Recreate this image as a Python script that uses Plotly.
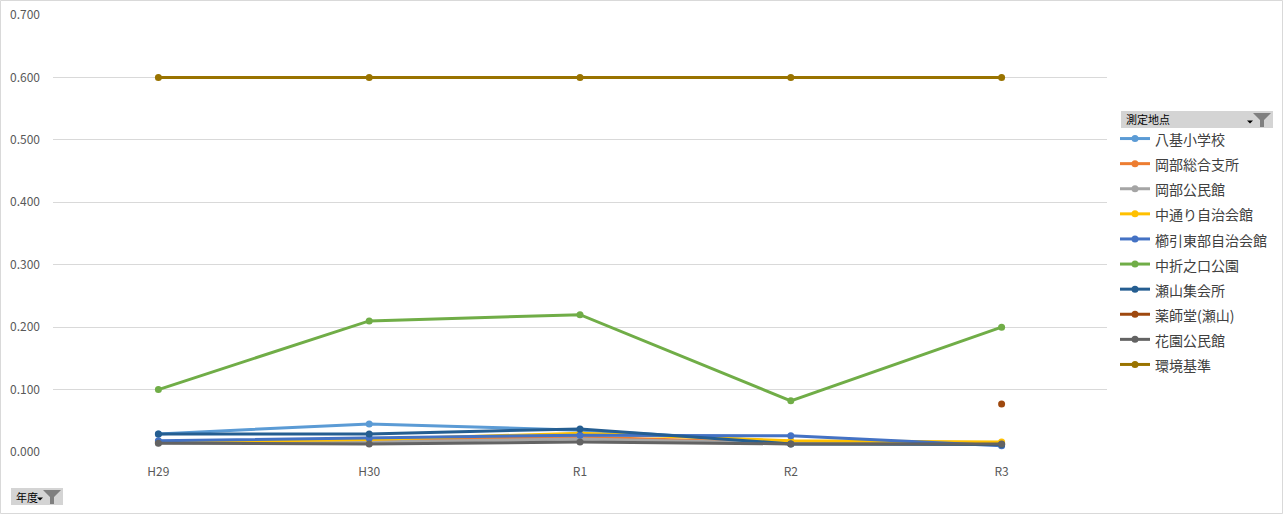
import plotly.graph_objects as go

years = ["H29", "H30", "R1", "R2", "R3"]
series_names = ["八基小学校", "岡部総合支所", "岡部公民館", "中通り自治会館", "櫛引東部自治会館",
                "中折之口公園", "瀬山集会所", "薬師堂(瀬山)", "花園公民館", "環境基準"]
v_yagi = [0.029, 0.045, 0.035, 0.016, 0.012]
v_okabe_sogo = [0.016, 0.019, 0.024, 0.014, 0.014]
v_okabe_kom = [0.015, 0.016, 0.021, 0.014, 0.013]
v_nakadori = [0.016, 0.020, 0.030, 0.018, 0.016]
v_kushibiki = [0.018, 0.022, 0.027, 0.026, 0.010]
v_nakaori = [0.100, 0.210, 0.220, 0.082, 0.200]
v_seyama = [0.029, 0.029, 0.037, 0.013, 0.012]
v_yakushi = [None, None, None, None, 0.077]
v_hanazono = [0.014, 0.013, 0.016, 0.013, 0.013]
v_kijun = [0.600, 0.600, 0.600, 0.600, 0.600]
all_values = [v_yagi, v_okabe_sogo, v_okabe_kom, v_nakadori, v_kushibiki,
              v_nakaori, v_seyama, v_yakushi, v_hanazono, v_kijun]
colors = ["#5B9BD5", "#ED7D31", "#A5A5A5", "#FFC000", "#4472C4",
          "#70AD47", "#255E91", "#9E480E", "#636363", "#997300"]
y_ticks = [0.0, 0.1, 0.2, 0.3, 0.4, 0.5, 0.6, 0.7]

FONT = "Noto Sans CJK JP"
fig = go.Figure()
for name, vals, col in zip(series_names, all_values, colors):
    fig.add_trace(go.Scatter(x=years, y=vals, name=f'<span style="font-size:14px">{name}</span>',
                             mode="lines+markers",
                             line=dict(color=col, width=3),
                             marker=dict(color=col, size=7, symbol="circle"),
                             hoverinfo="skip"))

W, H = 1283, 514
L, R, T, B = 53, 176, 15, 62
fig.update_layout(
    width=W, height=H,
    margin=dict(l=L, r=R, t=T, b=B, autoexpand=False),
    paper_bgcolor="white", plot_bgcolor="white",
    font=dict(family=FONT, size=12, color="#595959"),
    showlegend=True,
    legend=dict(x=(1115 - L) / (W - L - R), y=(H - B - 121) / (H - T - B), xanchor="left", yanchor="top",
                font=dict(family=FONT, size=17, color="#404040"),
                tracegroupgap=0, itemwidth=30, bgcolor="rgba(0,0,0,0)",
                traceorder="normal"),
    xaxis=dict(type="category", showgrid=False, zeroline=False, showline=False,
               ticks="", tickfont=dict(size=12, color="#595959"), ticklabelstandoff=11,
               range=[-0.5, 4.5]),
    yaxis=dict(range=[0, 0.7], tickvals=y_ticks, tickformat=".3f", showgrid=True,
               gridcolor="#D9D9D9", gridwidth=1, zeroline=False, showline=False,
               ticks="", tickfont=dict(size=12, color="#595959"), ticklabelstandoff=12),
)


def px_x(p):
    return (p - L) / (W - L - R)


def px_y(p):
    return (H - B - p) / (H - T - B)


# outer chart border
fig.add_shape(type="rect", xref="paper", yref="paper", x0=px_x(0.5), x1=px_x(W - 0.5),
              y0=px_y(H - 0.5), y1=px_y(0.5),
              line=dict(color="#D9D9D9", width=1), layer="below")


def filter_button(x0, y0, x1, y1, label):
    fig.add_shape(type="rect", xref="paper", yref="paper", x0=px_x(x0), x1=px_x(x1),
                  y0=px_y(y1), y1=px_y(y0), line=dict(width=0),
                  fillcolor="#D4D4D4")
    fig.add_annotation(xref="paper", yref="paper", x=px_x(x0 + 3), y=px_y((y0 + y1) / 2),
                       text=label, showarrow=False, xanchor="left", yanchor="middle",
                       font=dict(family=FONT, size=11, color="#000000"))
    # funnel icon
    fx = x1 - 11
    path = (f"M {px_x(fx-9)} {px_y(y0+2)} L {px_x(fx+9)} {px_y(y0+2)} L {px_x(fx+2)} {px_y(y0+9)} "
            f"L {px_x(fx+2)} {px_y(y1-1)} L {px_x(fx-2)} {px_y(y1-1)} L {px_x(fx-2)} {px_y(y0+9)} Z")
    fig.add_shape(type="path", xref="paper", yref="paper", path=path,
                  fillcolor="#7F7F7F", line=dict(width=0))
    # dropdown arrow
    ax = fx - 12
    ay = (y0 + y1) / 2 + 3
    apath = f"M {px_x(ax-3)} {px_y(ay-2)} L {px_x(ax+3)} {px_y(ay-2)} L {px_x(ax)} {px_y(ay+1)} Z"
    fig.add_shape(type="path", xref="paper", yref="paper", path=apath,
                  fillcolor="#000000", line=dict(width=0))


filter_button(11, 488, 63, 505, "年度")
filter_button(1121, 111, 1273, 128, "測定地点")

fig.write_html("out.html", config={"displayModeBar": False},
               post_script="document.body.style.margin='0';")
